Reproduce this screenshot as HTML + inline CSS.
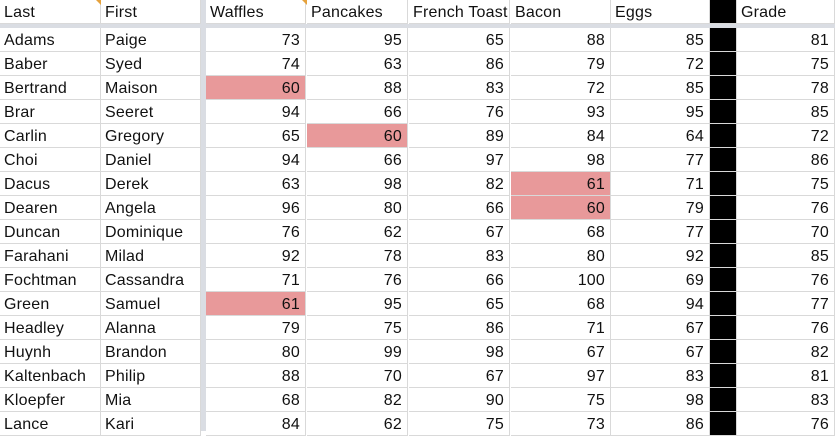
<!DOCTYPE html>
<html><head><meta charset="utf-8"><style>
body{margin:0;width:835px;height:431px;overflow:hidden;background:#fff;font-family:"Liberation Sans",sans-serif;font-size:16px;color:#111;}
.c{position:absolute;box-sizing:border-box;height:24px;line-height:26px;border-right:1px solid #d9d9d9;border-bottom:1px solid #d9d9d9;padding:0 4px;white-space:nowrap;overflow:hidden;letter-spacing:0.2px;}
.n{text-align:right;padding-right:5px;}
.hl{background:#e8999a;}
</style></head><body>
<div id="g"></div>
<script>
const headers=["Last","First","Waffles","Pancakes","French Toast","Bacon","Eggs","","Grade"];
const lastNames=["Adams","Baber","Bertrand","Brar","Carlin","Choi","Dacus","Dearen","Duncan","Farahani","Fochtman","Green","Headley","Huynh","Kaltenbach","Kloepfer","Lance"];
const firstNames=["Paige","Syed","Maison","Seeret","Gregory","Daniel","Derek","Angela","Dominique","Milad","Cassandra","Samuel","Alanna","Brandon","Philip","Mia","Kari"];
const waffles=[73,74,60,94,65,94,63,96,76,92,71,61,79,80,88,68,84];
const pancakes=[95,63,88,66,60,66,98,80,62,78,76,95,75,99,70,82,62];
const frenchToast=[65,86,83,76,89,97,82,66,67,83,66,65,86,98,67,90,75];
const bacon=[88,79,72,93,84,98,61,60,68,80,100,68,71,67,97,75,73];
const eggs=[85,72,85,95,64,77,71,79,77,92,69,94,67,67,83,98,86];
const grade=[81,75,78,85,72,86,75,76,70,85,76,77,76,82,81,83,76];
const xs=[0,101,206,307,409,511,611,710,737];
const ws=[101,100,100,101,101,100,99,27,98];
const g=document.getElementById('g');
function cell(x,y,w,txt,cls,name,bg){
  const d=document.createElement('div');
  d.className='c '+cls;
  d.style.left=x+'px';d.style.top=y+'px';d.style.width=w+'px';
  if(bg)d.style.background=bg;
  d.textContent=txt;
  
  
  g.appendChild(d);return d;
}
headers.forEach((h,i)=>{cell(xs[i],0,ws[i],h,'', 'header-'+(h?h.toLowerCase().replace(/ /g,'-'):'blank'), i==7?'#000':null);});
const hs=document.createElement('div');hs.style.cssText='position:absolute;left:0;top:24px;width:835px;height:4px;background:#dadde3';


g.appendChild(hs);
const vs=document.createElement('div');vs.style.cssText='position:absolute;left:201px;top:0;width:5px;height:431px;background:#dadde3';


g.appendChild(vs);
const cols=[waffles,pancakes,frenchToast,bacon,eggs];
lastNames.forEach((ln,r)=>{
  const y=28+r*24;
  cell(xs[0],y,ws[0],ln,'','last-name-cell');
  cell(xs[1],y,ws[1],firstNames[r],'','first-name-cell');
  cols.forEach((arr,k)=>{
    cell(xs[2+k],y,ws[2+k],arr[r],'n'+(arr[r]<=61?' hl':''),'score-cell');
  });
  cell(xs[7],y,ws[7],'','', 'blank-black-cell','#000');
  cell(xs[8],y,ws[8],grade[r],'n','grade-cell');
});
[[96,0],[302,0]].forEach(p=>{const t=document.createElement('div');t.style.cssText='position:absolute;left:'+p[0]+'px;top:'+p[1]+'px;width:0;height:0;border-left:5px solid transparent;border-top:5px solid #e6a23c';


g.appendChild(t);});
</script>
</body></html>
